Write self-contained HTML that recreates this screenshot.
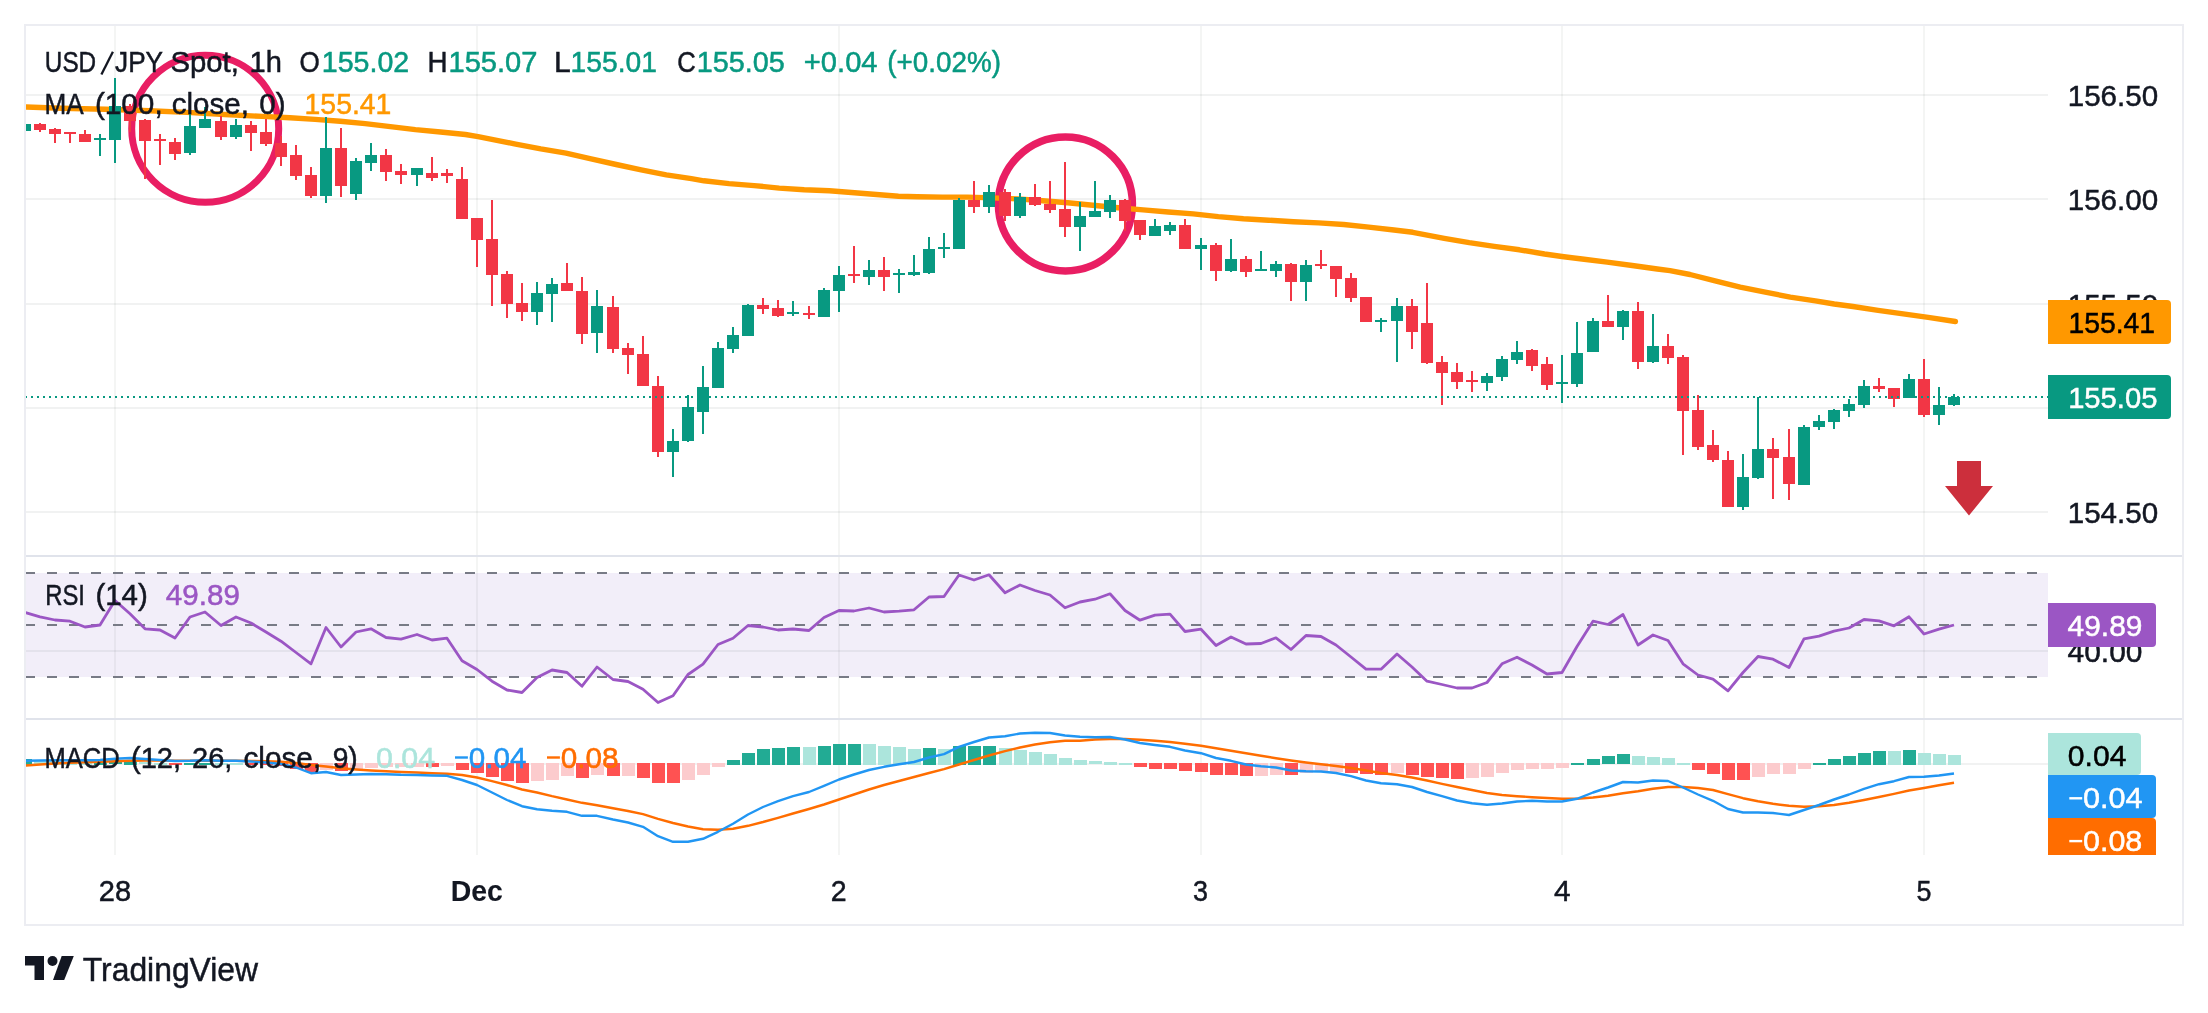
<!DOCTYPE html><html><head><meta charset="utf-8"><title>USD/JPY chart</title><style>html,body{margin:0;padding:0;background:#fff}body{width:2208px;height:1013px;overflow:hidden;font-family:"Liberation Sans",sans-serif}svg{display:block;will-change:transform}text{font-family:"Liberation Sans",sans-serif}</style></head><body>
<svg width="2208" height="1013" viewBox="0 0 2208 1013">
<rect width="2208" height="1013" fill="#fff"/>
<defs><clipPath id="pane"><rect x="26" y="26" width="2022" height="829"/></clipPath></defs>
<rect x="26" y="573" width="2022" height="104" fill="#f2eef9"/>
<g fill="#1e3228" fill-opacity="0.05" shape-rendering="crispEdges">
<rect x="114" y="26" width="2" height="829"/>
<rect x="476" y="26" width="2" height="829"/>
<rect x="838" y="26" width="2" height="829"/>
<rect x="1200" y="26" width="2" height="829"/>
<rect x="1561" y="26" width="2" height="829"/>
<rect x="1923" y="26" width="2" height="829"/>
</g>
<g fill="#1e3228" fill-opacity="0.062" shape-rendering="crispEdges">
<rect x="26" y="94" width="2022" height="2"/>
<rect x="26" y="198" width="2022" height="2"/>
<rect x="26" y="303" width="2022" height="2"/>
<rect x="26" y="407" width="2022" height="2"/>
<rect x="26" y="511" width="2022" height="2"/>
<rect x="26" y="650" width="2022" height="2"/>
<rect x="26" y="763" width="2022" height="2"/>
</g>
<g fill="#ecedf2" shape-rendering="crispEdges">
<rect x="24" y="24" width="2160" height="2"/><rect x="24" y="924" width="2160" height="2"/><rect x="24" y="24" width="2" height="902"/><rect x="2182" y="24" width="2" height="902"/>
</g>
<g fill="#e0e3eb" shape-rendering="crispEdges">
<rect x="26" y="555" width="2156" height="2"/><rect x="26" y="718" width="2156" height="2"/>
</g>
<g stroke="#787b86" stroke-width="2" stroke-dasharray="10 12" clip-path="url(#pane)">
<line x1="25" y1="573" x2="2048" y2="573"/>
<line x1="25" y1="625" x2="2048" y2="625"/>
<line x1="25" y1="677" x2="2048" y2="677"/>
</g>
<g clip-path="url(#pane)">
<circle cx="205.2" cy="128.8" r="73.5" fill="none" stroke="#e91e63" stroke-width="7"/>
<circle cx="1065.4" cy="203.9" r="67" fill="none" stroke="#e91e63" stroke-width="7.5"/>
<g shape-rendering="crispEdges">
<rect x="19" y="759.0" width="13" height="5.5" fill="#22ab94"/>
<rect x="34" y="760.0" width="13" height="4.5" fill="#ace5dc"/>
<rect x="49" y="760.8" width="13" height="3.8" fill="#ace5dc"/>
<rect x="64" y="761.5" width="13" height="3.0" fill="#ace5dc"/>
<rect x="79" y="762.0" width="13" height="2.5" fill="#ace5dc"/>
<rect x="94" y="761.8" width="13" height="2.8" fill="#22ab94"/>
<rect x="109" y="761.2" width="13" height="3.2" fill="#22ab94"/>
<rect x="124" y="761.0" width="13" height="3.5" fill="#22ab94"/>
<rect x="139" y="762.2" width="13" height="2.2" fill="#ace5dc"/>
<rect x="154" y="762.5" width="13" height="2.0" fill="#ace5dc"/>
<rect x="169" y="763.0" width="13" height="1.5" fill="#ff5252"/>
<rect x="184" y="762.5" width="13" height="2.0" fill="#22ab94"/>
<rect x="199" y="762.5" width="13" height="2.0" fill="#22ab94"/>
<rect x="215" y="762.5" width="13" height="2.0" fill="#ace5dc"/>
<rect x="230" y="762.5" width="13" height="2.0" fill="#ace5dc"/>
<rect x="245" y="763.0" width="13" height="1.5" fill="#ff5252"/>
<rect x="260" y="763.0" width="13" height="2.2" fill="#ff5252"/>
<rect x="275" y="763.0" width="13" height="3.2" fill="#ff5252"/>
<rect x="290" y="763.0" width="13" height="5.8" fill="#ff5252"/>
<rect x="305" y="763.0" width="13" height="9.0" fill="#ff5252"/>
<rect x="320" y="763.0" width="13" height="6.5" fill="#fccbcd"/>
<rect x="335" y="763.0" width="13" height="7.8" fill="#ff5252"/>
<rect x="350" y="763.0" width="13" height="6.0" fill="#fccbcd"/>
<rect x="365" y="763.0" width="13" height="4.5" fill="#fccbcd"/>
<rect x="380" y="763.0" width="13" height="4.0" fill="#fccbcd"/>
<rect x="395" y="763.0" width="13" height="3.8" fill="#fccbcd"/>
<rect x="411" y="763.0" width="13" height="3.5" fill="#fccbcd"/>
<rect x="426" y="763.0" width="13" height="4.0" fill="#ff5252"/>
<rect x="441" y="763.0" width="13" height="3.2" fill="#fccbcd"/>
<rect x="456" y="763.0" width="13" height="7.0" fill="#ff5252"/>
<rect x="471" y="763.0" width="13" height="9.5" fill="#ff5252"/>
<rect x="486" y="763.0" width="13" height="14.0" fill="#ff5252"/>
<rect x="501" y="763.0" width="13" height="17.5" fill="#ff5252"/>
<rect x="516" y="763.0" width="13" height="19.5" fill="#ff5252"/>
<rect x="531" y="763.0" width="13" height="18.2" fill="#fccbcd"/>
<rect x="546" y="763.0" width="13" height="16.5" fill="#fccbcd"/>
<rect x="561" y="763.0" width="13" height="13.2" fill="#fccbcd"/>
<rect x="576" y="763.0" width="13" height="14.5" fill="#ff5252"/>
<rect x="591" y="763.0" width="13" height="12.0" fill="#fccbcd"/>
<rect x="607" y="763.0" width="13" height="12.5" fill="#ff5252"/>
<rect x="622" y="763.0" width="13" height="12.5" fill="#fccbcd"/>
<rect x="637" y="763.0" width="13" height="14.5" fill="#ff5252"/>
<rect x="652" y="763.0" width="13" height="19.5" fill="#ff5252"/>
<rect x="667" y="763.0" width="13" height="19.5" fill="#ff5252"/>
<rect x="682" y="763.0" width="13" height="16.5" fill="#fccbcd"/>
<rect x="697" y="763.0" width="13" height="11.5" fill="#fccbcd"/>
<rect x="712" y="763.0" width="13" height="3.8" fill="#fccbcd"/>
<rect x="727" y="760.0" width="13" height="4.5" fill="#22ab94"/>
<rect x="742" y="753.0" width="13" height="11.5" fill="#22ab94"/>
<rect x="757" y="749.0" width="13" height="15.5" fill="#22ab94"/>
<rect x="772" y="748.0" width="13" height="16.5" fill="#22ab94"/>
<rect x="787" y="747.0" width="13" height="17.5" fill="#22ab94"/>
<rect x="803" y="747.0" width="13" height="17.5" fill="#ace5dc"/>
<rect x="818" y="746.0" width="13" height="18.5" fill="#22ab94"/>
<rect x="833" y="744.0" width="13" height="20.5" fill="#22ab94"/>
<rect x="848" y="744.0" width="13" height="20.5" fill="#22ab94"/>
<rect x="863" y="744.0" width="13" height="20.5" fill="#ace5dc"/>
<rect x="878" y="746.0" width="13" height="18.5" fill="#ace5dc"/>
<rect x="893" y="747.0" width="13" height="17.5" fill="#ace5dc"/>
<rect x="908" y="749.0" width="13" height="15.5" fill="#ace5dc"/>
<rect x="923" y="748.0" width="13" height="16.5" fill="#22ab94"/>
<rect x="938" y="749.0" width="13" height="15.5" fill="#ace5dc"/>
<rect x="953" y="746.0" width="13" height="18.5" fill="#22ab94"/>
<rect x="968" y="746.0" width="13" height="18.5" fill="#22ab94"/>
<rect x="983" y="746.0" width="13" height="18.5" fill="#22ab94"/>
<rect x="999" y="748.0" width="13" height="16.5" fill="#ace5dc"/>
<rect x="1014" y="750.0" width="13" height="14.5" fill="#ace5dc"/>
<rect x="1029" y="752.0" width="13" height="12.5" fill="#ace5dc"/>
<rect x="1044" y="754.0" width="13" height="10.5" fill="#ace5dc"/>
<rect x="1059" y="758.0" width="13" height="6.5" fill="#ace5dc"/>
<rect x="1074" y="760.0" width="13" height="4.5" fill="#ace5dc"/>
<rect x="1089" y="761.2" width="13" height="3.2" fill="#ace5dc"/>
<rect x="1104" y="762.0" width="13" height="2.5" fill="#ace5dc"/>
<rect x="1119" y="762.5" width="13" height="2.0" fill="#ace5dc"/>
<rect x="1134" y="763.0" width="13" height="3.8" fill="#ff5252"/>
<rect x="1149" y="763.0" width="13" height="5.8" fill="#ff5252"/>
<rect x="1164" y="763.0" width="13" height="5.8" fill="#ff5252"/>
<rect x="1179" y="763.0" width="13" height="7.8" fill="#ff5252"/>
<rect x="1195" y="763.0" width="13" height="8.8" fill="#ff5252"/>
<rect x="1210" y="763.0" width="13" height="11.5" fill="#ff5252"/>
<rect x="1225" y="763.0" width="13" height="11.5" fill="#ff5252"/>
<rect x="1240" y="763.0" width="13" height="12.5" fill="#ff5252"/>
<rect x="1255" y="763.0" width="13" height="12.5" fill="#fccbcd"/>
<rect x="1270" y="763.0" width="13" height="11.5" fill="#fccbcd"/>
<rect x="1285" y="763.0" width="13" height="11.5" fill="#ff5252"/>
<rect x="1300" y="763.0" width="13" height="9.5" fill="#fccbcd"/>
<rect x="1315" y="763.0" width="13" height="7.5" fill="#fccbcd"/>
<rect x="1330" y="763.0" width="13" height="9.0" fill="#fccbcd"/>
<rect x="1345" y="763.0" width="13" height="9.5" fill="#ff5252"/>
<rect x="1360" y="763.0" width="13" height="11.0" fill="#ff5252"/>
<rect x="1375" y="763.0" width="13" height="11.5" fill="#ff5252"/>
<rect x="1391" y="763.0" width="13" height="10.2" fill="#fccbcd"/>
<rect x="1406" y="763.0" width="13" height="12.0" fill="#ff5252"/>
<rect x="1421" y="763.0" width="13" height="13.5" fill="#ff5252"/>
<rect x="1436" y="763.0" width="13" height="14.5" fill="#ff5252"/>
<rect x="1451" y="763.0" width="13" height="15.8" fill="#ff5252"/>
<rect x="1466" y="763.0" width="13" height="14.5" fill="#fccbcd"/>
<rect x="1481" y="763.0" width="13" height="13.5" fill="#fccbcd"/>
<rect x="1496" y="763.0" width="13" height="9.5" fill="#fccbcd"/>
<rect x="1511" y="763.0" width="13" height="6.5" fill="#fccbcd"/>
<rect x="1526" y="763.0" width="13" height="5.5" fill="#fccbcd"/>
<rect x="1541" y="763.0" width="13" height="5.5" fill="#fccbcd"/>
<rect x="1556" y="763.0" width="13" height="4.5" fill="#fccbcd"/>
<rect x="1571" y="762.5" width="13" height="2.0" fill="#22ab94"/>
<rect x="1587" y="759.0" width="13" height="5.5" fill="#22ab94"/>
<rect x="1602" y="756.2" width="13" height="8.2" fill="#22ab94"/>
<rect x="1617" y="754.2" width="13" height="10.2" fill="#22ab94"/>
<rect x="1632" y="755.5" width="13" height="9.0" fill="#ace5dc"/>
<rect x="1647" y="757.0" width="13" height="7.5" fill="#ace5dc"/>
<rect x="1662" y="758.0" width="13" height="6.5" fill="#ace5dc"/>
<rect x="1677" y="762.5" width="13" height="2.0" fill="#ace5dc"/>
<rect x="1692" y="763.0" width="13" height="7.0" fill="#ff5252"/>
<rect x="1707" y="763.0" width="13" height="10.8" fill="#ff5252"/>
<rect x="1722" y="763.0" width="13" height="17.0" fill="#ff5252"/>
<rect x="1737" y="763.0" width="13" height="17.0" fill="#ff5252"/>
<rect x="1752" y="763.0" width="13" height="13.8" fill="#fccbcd"/>
<rect x="1767" y="763.0" width="13" height="10.8" fill="#fccbcd"/>
<rect x="1783" y="763.0" width="13" height="10.8" fill="#fccbcd"/>
<rect x="1798" y="763.0" width="13" height="5.8" fill="#fccbcd"/>
<rect x="1813" y="762.5" width="13" height="2.0" fill="#22ab94"/>
<rect x="1828" y="759.0" width="13" height="5.5" fill="#22ab94"/>
<rect x="1843" y="756.0" width="13" height="8.5" fill="#22ab94"/>
<rect x="1858" y="753.0" width="13" height="11.5" fill="#22ab94"/>
<rect x="1873" y="751.0" width="13" height="13.5" fill="#22ab94"/>
<rect x="1888" y="751.0" width="13" height="13.5" fill="#ace5dc"/>
<rect x="1903" y="750.0" width="13" height="14.5" fill="#22ab94"/>
<rect x="1918" y="753.0" width="13" height="11.5" fill="#ace5dc"/>
<rect x="1933" y="754.0" width="13" height="10.5" fill="#ace5dc"/>
<rect x="1948" y="755.0" width="13" height="9.5" fill="#ace5dc"/>
</g>
<polyline fill="none" stroke="#ff9800" stroke-width="5.4" stroke-linejoin="round" stroke-linecap="round" points="24.0,106.9 61.6,108.2 105.5,109.2 149.4,110.7 187.0,112.4 224.6,114.5 262.2,116.4 290.0,117.8 315.1,119.4 340.2,121.3 365.2,123.6 390.3,126.6 415.4,129.6 440.5,132.0 465.5,134.5 478.1,136.6 490.6,139.1 515.7,144.1 540.8,148.9 566.0,153.1 591.1,158.9 616.2,164.5 641.2,169.9 666.3,174.9 691.4,178.7 703.9,180.8 729.0,183.6 754.1,185.6 779.2,188.1 804.2,189.8 829.3,190.8 842.0,191.7 867.1,193.7 898.4,196.2 917.2,196.7 942.3,197.1 967.4,197.1 992.5,197.9 1017.6,198.9 1042.6,200.8 1067.7,202.7 1092.8,205.2 1118.0,207.7 1143.1,209.9 1168.2,212.0 1193.2,213.9 1218.3,216.6 1243.4,218.7 1268.5,220.2 1293.5,221.7 1318.6,222.9 1343.7,224.5 1368.8,227.1 1394.0,230.0 1412.8,232.3 1444.2,238.3 1469.2,242.7 1494.3,246.4 1519.4,249.8 1544.5,254.0 1562.0,256.5 1582.1,259.0 1607.2,262.1 1632.2,265.5 1657.3,269.0 1670.0,270.6 1690.0,274.5 1715.1,280.8 1740.2,287.1 1765.2,292.1 1790.3,297.1 1815.4,300.8 1834.2,304.0 1853.0,306.5 1878.1,310.3 1903.2,313.8 1928.2,317.4 1955.4,321.5"/>
<g shape-rendering="crispEdges">
<rect x="24" y="123.0" width="2" height="8.0" fill="#089981"/>
<rect x="19" y="124.0" width="12" height="7.0" fill="#089981"/>
<rect x="39" y="123.0" width="2" height="9.0" fill="#f23645"/>
<rect x="34" y="124.0" width="12" height="6.0" fill="#f23645"/>
<rect x="54" y="128.0" width="2" height="15.0" fill="#f23645"/>
<rect x="49" y="129.0" width="12" height="5.0" fill="#f23645"/>
<rect x="69" y="132.0" width="2" height="11.0" fill="#f23645"/>
<rect x="64" y="132.0" width="12" height="2.0" fill="#f23645"/>
<rect x="84" y="130.0" width="2" height="12.0" fill="#f23645"/>
<rect x="79" y="134.0" width="12" height="8.0" fill="#f23645"/>
<rect x="99" y="134.0" width="2" height="22.0" fill="#089981"/>
<rect x="94" y="138.0" width="12" height="2.0" fill="#089981"/>
<rect x="114" y="78.0" width="2" height="85.0" fill="#089981"/>
<rect x="109" y="106.0" width="12" height="34.0" fill="#089981"/>
<rect x="129" y="104.0" width="2" height="28.0" fill="#f23645"/>
<rect x="124" y="106.0" width="12" height="15.0" fill="#f23645"/>
<rect x="144" y="119.0" width="2" height="60.0" fill="#f23645"/>
<rect x="139" y="120.0" width="12" height="21.0" fill="#f23645"/>
<rect x="159" y="134.0" width="2" height="31.0" fill="#f23645"/>
<rect x="154" y="139.0" width="12" height="2.0" fill="#f23645"/>
<rect x="174" y="138.0" width="2" height="22.0" fill="#f23645"/>
<rect x="169" y="142.0" width="12" height="12.0" fill="#f23645"/>
<rect x="189" y="114.0" width="2" height="41.0" fill="#089981"/>
<rect x="184" y="126.0" width="12" height="27.0" fill="#089981"/>
<rect x="204" y="107.0" width="2" height="21.0" fill="#089981"/>
<rect x="199" y="119.0" width="12" height="9.0" fill="#089981"/>
<rect x="220" y="116.0" width="2" height="24.0" fill="#f23645"/>
<rect x="215" y="121.0" width="12" height="16.0" fill="#f23645"/>
<rect x="235" y="119.0" width="2" height="20.0" fill="#089981"/>
<rect x="230" y="125.0" width="12" height="12.0" fill="#089981"/>
<rect x="250" y="121.0" width="2" height="30.0" fill="#f23645"/>
<rect x="245" y="125.0" width="12" height="8.0" fill="#f23645"/>
<rect x="265" y="119.0" width="2" height="27.0" fill="#f23645"/>
<rect x="260" y="132.0" width="12" height="12.0" fill="#f23645"/>
<rect x="280" y="136.0" width="2" height="30.0" fill="#f23645"/>
<rect x="275" y="143.0" width="12" height="14.0" fill="#f23645"/>
<rect x="295" y="145.0" width="2" height="35.0" fill="#f23645"/>
<rect x="290" y="155.0" width="12" height="20.5" fill="#f23645"/>
<rect x="310" y="167.0" width="2" height="31.0" fill="#f23645"/>
<rect x="305" y="175.0" width="12" height="21.0" fill="#f23645"/>
<rect x="325" y="117.0" width="2" height="86.0" fill="#089981"/>
<rect x="320" y="148.0" width="12" height="48.0" fill="#089981"/>
<rect x="340" y="128.0" width="2" height="69.0" fill="#f23645"/>
<rect x="335" y="148.0" width="12" height="38.0" fill="#f23645"/>
<rect x="355" y="157.5" width="2" height="42.5" fill="#089981"/>
<rect x="350" y="161.0" width="12" height="33.0" fill="#089981"/>
<rect x="370" y="143.0" width="2" height="28.0" fill="#089981"/>
<rect x="365" y="155.0" width="12" height="8.0" fill="#089981"/>
<rect x="385" y="149.0" width="2" height="32.0" fill="#f23645"/>
<rect x="380" y="155.0" width="12" height="17.0" fill="#f23645"/>
<rect x="400" y="164.0" width="2" height="20.0" fill="#f23645"/>
<rect x="395" y="171.0" width="12" height="3.5" fill="#f23645"/>
<rect x="416" y="168.0" width="2" height="18.0" fill="#089981"/>
<rect x="411" y="168.0" width="12" height="6.5" fill="#089981"/>
<rect x="431" y="157.0" width="2" height="24.0" fill="#f23645"/>
<rect x="426" y="173.0" width="12" height="4.5" fill="#f23645"/>
<rect x="446" y="169.0" width="2" height="14.0" fill="#f23645"/>
<rect x="441" y="172.5" width="12" height="3.5" fill="#f23645"/>
<rect x="461" y="167.0" width="2" height="52.0" fill="#f23645"/>
<rect x="456" y="179.0" width="12" height="40.0" fill="#f23645"/>
<rect x="476" y="218.0" width="2" height="49.0" fill="#f23645"/>
<rect x="471" y="218.0" width="12" height="21.5" fill="#f23645"/>
<rect x="491" y="200.0" width="2" height="106.0" fill="#f23645"/>
<rect x="486" y="239.0" width="12" height="36.0" fill="#f23645"/>
<rect x="506" y="271.0" width="2" height="46.5" fill="#f23645"/>
<rect x="501" y="274.0" width="12" height="30.0" fill="#f23645"/>
<rect x="521" y="283.0" width="2" height="37.5" fill="#f23645"/>
<rect x="516" y="303.0" width="12" height="9.0" fill="#f23645"/>
<rect x="536" y="282.0" width="2" height="42.5" fill="#089981"/>
<rect x="531" y="293.0" width="12" height="19.0" fill="#089981"/>
<rect x="551" y="278.0" width="2" height="44.0" fill="#089981"/>
<rect x="546" y="284.0" width="12" height="10.0" fill="#089981"/>
<rect x="566" y="263.0" width="2" height="28.0" fill="#f23645"/>
<rect x="561" y="283.0" width="12" height="8.0" fill="#f23645"/>
<rect x="581" y="277.0" width="2" height="67.0" fill="#f23645"/>
<rect x="576" y="291.0" width="12" height="43.0" fill="#f23645"/>
<rect x="596" y="290.0" width="2" height="62.5" fill="#089981"/>
<rect x="591" y="306.0" width="12" height="26.5" fill="#089981"/>
<rect x="612" y="296.0" width="2" height="56.5" fill="#f23645"/>
<rect x="607" y="307.0" width="12" height="42.0" fill="#f23645"/>
<rect x="627" y="343.0" width="2" height="31.0" fill="#f23645"/>
<rect x="622" y="348.0" width="12" height="6.5" fill="#f23645"/>
<rect x="642" y="336.0" width="2" height="50.0" fill="#f23645"/>
<rect x="637" y="354.0" width="12" height="32.0" fill="#f23645"/>
<rect x="657" y="376.0" width="2" height="81.0" fill="#f23645"/>
<rect x="652" y="386.0" width="12" height="66.0" fill="#f23645"/>
<rect x="672" y="429.0" width="2" height="48.0" fill="#089981"/>
<rect x="667" y="441.0" width="12" height="11.0" fill="#089981"/>
<rect x="687" y="395.0" width="2" height="47.0" fill="#089981"/>
<rect x="682" y="407.0" width="12" height="34.0" fill="#089981"/>
<rect x="702" y="366.0" width="2" height="68.0" fill="#089981"/>
<rect x="697" y="387.0" width="12" height="25.0" fill="#089981"/>
<rect x="717" y="342.0" width="2" height="46.0" fill="#089981"/>
<rect x="712" y="348.0" width="12" height="40.0" fill="#089981"/>
<rect x="732" y="327.0" width="2" height="26.0" fill="#089981"/>
<rect x="727" y="335.0" width="12" height="14.0" fill="#089981"/>
<rect x="747" y="304.0" width="2" height="32.0" fill="#089981"/>
<rect x="742" y="305.0" width="12" height="31.0" fill="#089981"/>
<rect x="762" y="298.0" width="2" height="16.0" fill="#f23645"/>
<rect x="757" y="305.0" width="12" height="4.0" fill="#f23645"/>
<rect x="777" y="300.0" width="2" height="17.0" fill="#f23645"/>
<rect x="772" y="308.0" width="12" height="8.0" fill="#f23645"/>
<rect x="792" y="301.0" width="2" height="15.0" fill="#089981"/>
<rect x="787" y="312.0" width="12" height="2.0" fill="#089981"/>
<rect x="808" y="306.0" width="2" height="13.0" fill="#f23645"/>
<rect x="803" y="313.0" width="12" height="2.0" fill="#f23645"/>
<rect x="823" y="288.0" width="2" height="29.0" fill="#089981"/>
<rect x="818" y="290.0" width="12" height="27.0" fill="#089981"/>
<rect x="838" y="266.0" width="2" height="46.0" fill="#089981"/>
<rect x="833" y="275.0" width="12" height="16.0" fill="#089981"/>
<rect x="853" y="246.0" width="2" height="37.0" fill="#f23645"/>
<rect x="848" y="274.0" width="12" height="2.0" fill="#f23645"/>
<rect x="868" y="260.0" width="2" height="25.0" fill="#089981"/>
<rect x="863" y="270.0" width="12" height="7.0" fill="#089981"/>
<rect x="883" y="257.0" width="2" height="34.0" fill="#f23645"/>
<rect x="878" y="270.0" width="12" height="7.0" fill="#f23645"/>
<rect x="898" y="269.0" width="2" height="24.0" fill="#089981"/>
<rect x="893" y="273.0" width="12" height="2.0" fill="#089981"/>
<rect x="913" y="255.0" width="2" height="21.0" fill="#089981"/>
<rect x="908" y="272.0" width="12" height="3.0" fill="#089981"/>
<rect x="928" y="237.0" width="2" height="37.0" fill="#089981"/>
<rect x="923" y="249.0" width="12" height="24.0" fill="#089981"/>
<rect x="943" y="233.0" width="2" height="25.0" fill="#089981"/>
<rect x="938" y="247.0" width="12" height="2.0" fill="#089981"/>
<rect x="958" y="198.0" width="2" height="51.0" fill="#089981"/>
<rect x="953" y="200.0" width="12" height="49.0" fill="#089981"/>
<rect x="973" y="181.0" width="2" height="32.0" fill="#f23645"/>
<rect x="968" y="200.0" width="12" height="7.0" fill="#f23645"/>
<rect x="988" y="185.0" width="2" height="28.0" fill="#089981"/>
<rect x="983" y="192.0" width="12" height="15.0" fill="#089981"/>
<rect x="1004" y="189.0" width="2" height="32.0" fill="#f23645"/>
<rect x="999" y="192.0" width="12" height="24.0" fill="#f23645"/>
<rect x="1019" y="193.0" width="2" height="25.0" fill="#089981"/>
<rect x="1014" y="197.0" width="12" height="19.0" fill="#089981"/>
<rect x="1034" y="184.0" width="2" height="22.0" fill="#f23645"/>
<rect x="1029" y="197.0" width="12" height="7.5" fill="#f23645"/>
<rect x="1049" y="181.0" width="2" height="32.0" fill="#f23645"/>
<rect x="1044" y="204.0" width="12" height="6.0" fill="#f23645"/>
<rect x="1064" y="162.0" width="2" height="75.0" fill="#f23645"/>
<rect x="1059" y="209.0" width="12" height="18.0" fill="#f23645"/>
<rect x="1079" y="202.0" width="2" height="49.0" fill="#089981"/>
<rect x="1074" y="216.0" width="12" height="11.0" fill="#089981"/>
<rect x="1094" y="181.0" width="2" height="36.0" fill="#089981"/>
<rect x="1089" y="211.0" width="12" height="6.0" fill="#089981"/>
<rect x="1109" y="195.0" width="2" height="23.0" fill="#089981"/>
<rect x="1104" y="200.0" width="12" height="12.0" fill="#089981"/>
<rect x="1124" y="199.0" width="2" height="32.0" fill="#f23645"/>
<rect x="1119" y="200.0" width="12" height="21.0" fill="#f23645"/>
<rect x="1139" y="220.0" width="2" height="20.0" fill="#f23645"/>
<rect x="1134" y="220.0" width="12" height="15.0" fill="#f23645"/>
<rect x="1154" y="219.0" width="2" height="17.0" fill="#089981"/>
<rect x="1149" y="226.0" width="12" height="10.0" fill="#089981"/>
<rect x="1169" y="222.0" width="2" height="13.0" fill="#089981"/>
<rect x="1164" y="225.0" width="12" height="6.0" fill="#089981"/>
<rect x="1184" y="219.0" width="2" height="30.0" fill="#f23645"/>
<rect x="1179" y="225.0" width="12" height="24.0" fill="#f23645"/>
<rect x="1200" y="238.0" width="2" height="32.0" fill="#089981"/>
<rect x="1195" y="245.0" width="12" height="4.0" fill="#089981"/>
<rect x="1215" y="243.0" width="2" height="38.0" fill="#f23645"/>
<rect x="1210" y="245.0" width="12" height="26.0" fill="#f23645"/>
<rect x="1230" y="239.0" width="2" height="33.0" fill="#089981"/>
<rect x="1225" y="259.0" width="12" height="12.0" fill="#089981"/>
<rect x="1245" y="256.0" width="2" height="21.0" fill="#f23645"/>
<rect x="1240" y="259.0" width="12" height="13.0" fill="#f23645"/>
<rect x="1260" y="251.0" width="2" height="20.0" fill="#089981"/>
<rect x="1255" y="269.0" width="12" height="2.0" fill="#089981"/>
<rect x="1275" y="261.0" width="2" height="16.0" fill="#089981"/>
<rect x="1270" y="264.0" width="12" height="7.0" fill="#089981"/>
<rect x="1290" y="263.0" width="2" height="38.0" fill="#f23645"/>
<rect x="1285" y="264.0" width="12" height="18.0" fill="#f23645"/>
<rect x="1305" y="260.0" width="2" height="41.0" fill="#089981"/>
<rect x="1300" y="265.0" width="12" height="17.0" fill="#089981"/>
<rect x="1320" y="250.0" width="2" height="19.0" fill="#f23645"/>
<rect x="1315" y="264.0" width="12" height="2.0" fill="#f23645"/>
<rect x="1335" y="266.0" width="2" height="31.0" fill="#f23645"/>
<rect x="1330" y="266.0" width="12" height="13.0" fill="#f23645"/>
<rect x="1350" y="273.0" width="2" height="29.0" fill="#f23645"/>
<rect x="1345" y="278.0" width="12" height="20.0" fill="#f23645"/>
<rect x="1365" y="297.0" width="2" height="25.0" fill="#f23645"/>
<rect x="1360" y="297.0" width="12" height="25.0" fill="#f23645"/>
<rect x="1380" y="318.0" width="2" height="14.0" fill="#089981"/>
<rect x="1375" y="320.0" width="12" height="2.0" fill="#089981"/>
<rect x="1396" y="298.0" width="2" height="64.0" fill="#089981"/>
<rect x="1391" y="306.0" width="12" height="15.0" fill="#089981"/>
<rect x="1411" y="299.0" width="2" height="50.0" fill="#f23645"/>
<rect x="1406" y="306.0" width="12" height="26.0" fill="#f23645"/>
<rect x="1426" y="283.0" width="2" height="81.0" fill="#f23645"/>
<rect x="1421" y="323.0" width="12" height="40.0" fill="#f23645"/>
<rect x="1441" y="356.0" width="2" height="49.0" fill="#f23645"/>
<rect x="1436" y="362.0" width="12" height="11.0" fill="#f23645"/>
<rect x="1456" y="363.0" width="2" height="26.0" fill="#f23645"/>
<rect x="1451" y="372.0" width="12" height="10.0" fill="#f23645"/>
<rect x="1471" y="371.0" width="2" height="21.0" fill="#f23645"/>
<rect x="1466" y="380.0" width="12" height="2.0" fill="#f23645"/>
<rect x="1486" y="373.0" width="2" height="18.0" fill="#089981"/>
<rect x="1481" y="376.0" width="12" height="7.0" fill="#089981"/>
<rect x="1501" y="356.0" width="2" height="25.0" fill="#089981"/>
<rect x="1496" y="359.0" width="12" height="18.0" fill="#089981"/>
<rect x="1516" y="341.0" width="2" height="23.0" fill="#089981"/>
<rect x="1511" y="352.0" width="12" height="8.0" fill="#089981"/>
<rect x="1531" y="349.0" width="2" height="22.0" fill="#f23645"/>
<rect x="1526" y="350.0" width="12" height="16.0" fill="#f23645"/>
<rect x="1546" y="357.0" width="2" height="33.0" fill="#f23645"/>
<rect x="1541" y="364.0" width="12" height="21.0" fill="#f23645"/>
<rect x="1561" y="355.0" width="2" height="48.0" fill="#089981"/>
<rect x="1556" y="382.0" width="12" height="2.0" fill="#089981"/>
<rect x="1576" y="322.0" width="2" height="65.0" fill="#089981"/>
<rect x="1571" y="353.0" width="12" height="31.0" fill="#089981"/>
<rect x="1592" y="318.0" width="2" height="34.0" fill="#089981"/>
<rect x="1587" y="321.0" width="12" height="31.0" fill="#089981"/>
<rect x="1607" y="295.0" width="2" height="32.0" fill="#f23645"/>
<rect x="1602" y="321.0" width="12" height="6.0" fill="#f23645"/>
<rect x="1622" y="310.0" width="2" height="30.0" fill="#089981"/>
<rect x="1617" y="311.0" width="12" height="16.0" fill="#089981"/>
<rect x="1637" y="302.0" width="2" height="67.0" fill="#f23645"/>
<rect x="1632" y="311.0" width="12" height="51.0" fill="#f23645"/>
<rect x="1652" y="314.0" width="2" height="49.0" fill="#089981"/>
<rect x="1647" y="346.0" width="12" height="16.0" fill="#089981"/>
<rect x="1667" y="334.0" width="2" height="30.0" fill="#f23645"/>
<rect x="1662" y="346.0" width="12" height="12.0" fill="#f23645"/>
<rect x="1682" y="355.0" width="2" height="100.0" fill="#f23645"/>
<rect x="1677" y="357.0" width="12" height="54.0" fill="#f23645"/>
<rect x="1697" y="395.0" width="2" height="55.0" fill="#f23645"/>
<rect x="1692" y="410.0" width="12" height="37.0" fill="#f23645"/>
<rect x="1712" y="430.0" width="2" height="32.0" fill="#f23645"/>
<rect x="1707" y="445.0" width="12" height="15.0" fill="#f23645"/>
<rect x="1727" y="451.0" width="2" height="56.0" fill="#f23645"/>
<rect x="1722" y="460.0" width="12" height="47.0" fill="#f23645"/>
<rect x="1742" y="454.0" width="2" height="56.0" fill="#089981"/>
<rect x="1737" y="477.0" width="12" height="30.0" fill="#089981"/>
<rect x="1757" y="397.0" width="2" height="82.0" fill="#089981"/>
<rect x="1752" y="449.0" width="12" height="29.0" fill="#089981"/>
<rect x="1772" y="438.0" width="2" height="61.0" fill="#f23645"/>
<rect x="1767" y="449.0" width="12" height="9.0" fill="#f23645"/>
<rect x="1788" y="429.0" width="2" height="71.0" fill="#f23645"/>
<rect x="1783" y="457.0" width="12" height="27.0" fill="#f23645"/>
<rect x="1803" y="425.0" width="2" height="60.0" fill="#089981"/>
<rect x="1798" y="427.0" width="12" height="58.0" fill="#089981"/>
<rect x="1818" y="415.0" width="2" height="15.0" fill="#089981"/>
<rect x="1813" y="421.0" width="12" height="6.0" fill="#089981"/>
<rect x="1833" y="409.0" width="2" height="20.0" fill="#089981"/>
<rect x="1828" y="410.0" width="12" height="12.0" fill="#089981"/>
<rect x="1848" y="399.0" width="2" height="18.0" fill="#089981"/>
<rect x="1843" y="404.0" width="12" height="7.0" fill="#089981"/>
<rect x="1863" y="380.0" width="2" height="28.0" fill="#089981"/>
<rect x="1858" y="386.0" width="12" height="19.0" fill="#089981"/>
<rect x="1878" y="378.0" width="2" height="14.0" fill="#f23645"/>
<rect x="1873" y="386.0" width="12" height="3.0" fill="#f23645"/>
<rect x="1893" y="388.0" width="2" height="19.0" fill="#f23645"/>
<rect x="1888" y="388.0" width="12" height="11.0" fill="#f23645"/>
<rect x="1908" y="374.0" width="2" height="24.0" fill="#089981"/>
<rect x="1903" y="379.0" width="12" height="19.0" fill="#089981"/>
<rect x="1923" y="359.0" width="2" height="58.0" fill="#f23645"/>
<rect x="1918" y="379.0" width="12" height="36.0" fill="#f23645"/>
<rect x="1938" y="387.0" width="2" height="38.0" fill="#089981"/>
<rect x="1933" y="404.5" width="12" height="10.5" fill="#089981"/>
<rect x="1953" y="394.0" width="2" height="12.0" fill="#089981"/>
<rect x="1948" y="397.0" width="12" height="8.0" fill="#089981"/>
</g>
<line x1="25" y1="397" x2="2048" y2="397" stroke="#089981" stroke-width="2" stroke-dasharray="2 4" shape-rendering="crispEdges"/>
<polyline fill="none" stroke="#9b56c4" stroke-width="2.8" stroke-linejoin="round" points="25,612.5 40,616.8 55,620.0 70,621.2 85,627.0 100,625.0 115,600.5 130,613.8 145,628.8 160,630.0 175,638.0 190,617.0 205,612.0 221,625.5 236,617.0 251,623.0 266,632.0 281,641.2 296,652.5 311,663.8 326,627.5 341,647.0 356,632.0 371,628.8 386,637.5 401,639.2 417,634.5 432,640.0 447,638.2 462,660.8 477,669.5 492,681.2 507,690.0 522,692.5 537,677.5 552,670.0 567,672.5 582,686.2 597,667.0 613,679.5 628,681.5 643,689.2 658,702.5 673,695.8 688,674.5 703,664.2 718,644.5 733,638.2 748,625.5 763,627.0 778,630.0 793,629.0 809,630.5 824,617.5 839,610.5 854,611.0 869,608.0 884,612.0 899,611.2 914,609.8 929,597.0 944,596.5 959,575.0 974,580.0 989,574.8 1005,592.8 1020,585.0 1035,590.5 1050,595.0 1065,607.8 1080,602.0 1095,599.2 1110,593.8 1125,610.5 1140,620.2 1155,615.2 1170,614.2 1185,631.5 1201,629.2 1216,645.5 1231,637.0 1246,644.0 1261,643.5 1276,637.8 1291,649.5 1306,635.5 1321,636.5 1336,645.0 1351,657.0 1366,669.2 1381,669.2 1397,654.0 1412,667.0 1427,681.2 1442,684.5 1457,688.0 1472,688.0 1487,682.5 1502,663.8 1517,657.2 1532,665.0 1547,674.0 1562,672.5 1577,646.5 1593,621.2 1608,624.5 1623,614.5 1638,645.0 1653,635.0 1668,640.5 1683,663.8 1698,675.0 1713,679.2 1728,690.8 1743,672.5 1758,656.5 1773,659.2 1789,667.5 1804,638.8 1819,636.2 1834,631.2 1849,628.0 1864,619.5 1879,620.8 1894,625.8 1909,616.8 1924,634.0 1939,629.2 1954,625.0"/>
<polyline fill="none" stroke="#ff6d00" stroke-width="2.4" stroke-linejoin="round" points="25,765.5 40,764.5 55,763.5 70,762.8 85,762.2 100,761.8 115,761.2 130,760.8 145,760.5 160,760.5 175,760.8 190,760.8 205,760.8 221,760.8 236,760.8 251,761.0 266,761.2 281,761.8 296,763.0 311,765.0 326,766.5 341,768.2 356,769.5 371,770.5 386,771.2 401,772.0 417,772.5 432,773.2 447,773.8 462,775.0 477,777.5 492,781.2 507,785.0 522,789.5 537,792.5 552,796.2 567,799.5 582,802.8 597,805.2 613,808.2 628,811.0 643,814.2 658,818.8 673,823.0 688,826.5 703,829.2 718,829.8 733,828.8 748,825.8 763,822.0 778,817.8 793,813.5 809,809.0 824,804.5 839,799.5 854,794.5 869,789.5 884,785.0 899,781.0 914,777.0 929,773.0 944,769.2 959,764.5 974,760.0 989,755.5 1005,751.2 1020,747.5 1035,744.5 1050,742.2 1065,740.8 1080,740.8 1095,739.5 1110,739.0 1125,739.0 1140,739.8 1155,740.8 1170,742.0 1185,743.8 1201,745.8 1216,748.2 1231,750.8 1246,753.2 1261,755.8 1276,758.2 1291,760.5 1306,762.5 1321,764.2 1336,766.0 1351,768.0 1366,770.5 1381,773.0 1397,775.0 1412,777.5 1427,780.5 1442,783.8 1457,787.0 1472,790.0 1487,793.0 1502,795.0 1517,796.2 1532,797.2 1547,798.0 1562,798.8 1577,798.8 1593,797.5 1608,795.8 1623,793.2 1638,791.2 1653,788.8 1668,787.0 1683,787.0 1698,788.0 1713,790.0 1728,794.2 1743,798.2 1758,801.2 1773,803.8 1789,805.8 1804,806.8 1819,806.2 1834,805.0 1849,802.8 1864,800.0 1879,797.0 1894,793.8 1909,790.5 1924,788.0 1939,785.2 1954,782.8"/>
<polyline fill="none" stroke="#2196f3" stroke-width="2.4" stroke-linejoin="round" points="25,760.8 40,760.5 55,760.2 70,760.2 85,760.2 100,760.0 115,758.8 130,758.0 145,759.0 160,760.0 175,761.0 190,760.8 205,760.2 221,760.8 236,760.8 251,761.5 266,762.5 281,764.0 296,767.5 311,773.2 326,772.0 341,775.0 356,774.5 371,774.0 386,774.2 401,774.8 417,775.0 432,775.5 447,775.8 462,780.0 477,785.0 492,792.5 507,800.0 522,806.2 537,809.2 552,810.8 567,811.8 582,815.8 597,815.8 613,819.5 628,822.5 643,826.8 658,836.2 673,841.8 688,841.8 703,838.8 718,831.8 733,823.8 748,814.5 763,807.0 778,801.2 793,796.2 809,792.0 824,785.8 839,779.5 854,774.5 869,770.0 884,766.8 899,764.2 914,762.0 929,757.5 944,754.2 959,746.8 974,742.0 989,737.5 1005,736.2 1020,733.5 1035,732.8 1050,733.0 1065,735.5 1080,736.8 1095,737.2 1110,737.0 1125,739.5 1140,743.0 1155,745.0 1170,746.8 1185,750.5 1201,753.2 1216,758.0 1231,760.8 1246,764.5 1261,766.2 1276,767.5 1291,770.5 1306,771.2 1321,771.5 1336,773.0 1351,776.2 1366,780.5 1381,783.2 1397,784.2 1412,787.0 1427,792.0 1442,796.2 1457,800.5 1472,803.2 1487,804.8 1502,803.5 1517,801.5 1532,800.8 1547,801.5 1562,801.5 1577,798.8 1593,792.5 1608,787.5 1623,782.0 1638,782.5 1653,780.5 1668,781.0 1683,787.5 1698,794.5 1713,800.8 1728,809.0 1743,812.5 1758,812.5 1773,813.0 1789,815.0 1804,810.0 1819,805.0 1834,799.5 1849,794.5 1864,788.8 1879,784.2 1894,781.2 1909,777.0 1924,776.8 1939,775.5 1954,773.5"/>
<path d="M1957 461H1981V486H1993L1969 515.5L1945 486H1957Z" fill="#cc2f3c"/>
</g>
<text x="2067.75" y="106.00" font-size="29" fill="#131722" stroke="#131722" stroke-width="0.5" textLength="90.39" lengthAdjust="spacingAndGlyphs">156.50</text>
<text x="2067.75" y="210.00" font-size="29" fill="#131722" stroke="#131722" stroke-width="0.5" textLength="90.39" lengthAdjust="spacingAndGlyphs">156.00</text>
<text x="2067.75" y="314.70" font-size="29" fill="#131722" stroke="#131722" stroke-width="0.5" textLength="90.39" lengthAdjust="spacingAndGlyphs">155.50</text>
<text x="2067.75" y="523.00" font-size="29" fill="#131722" stroke="#131722" stroke-width="0.5" textLength="90.39" lengthAdjust="spacingAndGlyphs">154.50</text>
<text x="2067.59" y="661.60" font-size="29" fill="#131722" stroke="#131722" stroke-width="0.5" textLength="74.81" lengthAdjust="spacingAndGlyphs">40.00</text>
<path d="M2048 300H2167Q2171 300 2171 304V340Q2171 344 2167 344H2048Z" fill="#ff9800"/>
<text x="2068.50" y="333.00" font-size="29" fill="#000" stroke="#000" stroke-width="0.5" textLength="86.63" lengthAdjust="spacingAndGlyphs">155.41</text>
<path d="M2048 375H2167Q2171 375 2171 379V415Q2171 419 2167 419H2048Z" fill="#089981"/>
<text x="2068.13" y="408.00" font-size="29" fill="#fff" stroke="#fff" stroke-width="0.5" textLength="89.26" lengthAdjust="spacingAndGlyphs">155.05</text>
<path d="M2048 603H2152Q2156 603 2156 607V643Q2156 647 2152 647H2048Z" fill="#9b56c4"/>
<text x="2067.59" y="636.00" font-size="29" fill="#fff" stroke="#fff" stroke-width="0.5" textLength="74.81" lengthAdjust="spacingAndGlyphs">49.89</text>
<path d="M2048 733H2137Q2141 733 2141 737V771Q2141 775 2137 775H2048Z" fill="#ace5dc"/>
<text x="2067.85" y="765.90" font-size="29" fill="#000" stroke="#000" stroke-width="0.5" textLength="58.51" lengthAdjust="spacingAndGlyphs">0.04</text>
<path d="M2048 775H2152Q2156 775 2156 779V814Q2156 818 2152 818H2048Z" fill="#2196f3"/>
<rect x="2069.30" y="797.10" width="12.9" height="2.4" fill="#fff"/>
<text x="2083.03" y="808.30" font-size="29" fill="#fff" stroke="#fff" stroke-width="0.5" textLength="59.55" lengthAdjust="spacingAndGlyphs">0.04</text>
<path d="M2048 818H2152Q2156 818 2156 822V855H2048Z" fill="#ff6d00"/>
<rect x="2069.30" y="839.90" width="12.9" height="2.4" fill="#fff"/>
<text x="2083.03" y="851.10" font-size="29" fill="#fff" stroke="#fff" stroke-width="0.5" textLength="59.27" lengthAdjust="spacingAndGlyphs">0.08</text>
<text x="98.80" y="900.60" font-size="29" fill="#131722" stroke="#131722" stroke-width="0.5" textLength="32.23" lengthAdjust="spacingAndGlyphs">28</text>
<text x="450.67" y="900.60" font-size="29" fill="#131722" stroke="#131722" stroke-width="0.1" font-weight="bold" textLength="52.14" lengthAdjust="spacingAndGlyphs">Dec</text>
<text x="830.82" y="900.60" font-size="29" fill="#131722" stroke="#131722" stroke-width="0.5" textLength="15.86" lengthAdjust="spacingAndGlyphs">2</text>
<text x="1192.98" y="900.60" font-size="29" fill="#131722" stroke="#131722" stroke-width="0.5" textLength="14.96" lengthAdjust="spacingAndGlyphs">3</text>
<text x="1554.10" y="900.60" font-size="29" fill="#131722" stroke="#131722" stroke-width="0.5" textLength="16.55" lengthAdjust="spacingAndGlyphs">4</text>
<text x="1916.42" y="900.60" font-size="29" fill="#131722" stroke="#131722" stroke-width="0.5" textLength="14.96" lengthAdjust="spacingAndGlyphs">5</text>
<text x="44.85" y="72.40" font-size="29" fill="#131722" stroke="#131722" stroke-width="0.5" textLength="51.29" lengthAdjust="spacingAndGlyphs">USD</text>
<text x="115.08" y="72.40" font-size="29" fill="#131722" stroke="#131722" stroke-width="0.5" textLength="47.99" lengthAdjust="spacingAndGlyphs">JPY</text>
<text x="170.40" y="72.40" font-size="29" fill="#131722" stroke="#131722" stroke-width="0.5" textLength="68.46" lengthAdjust="spacingAndGlyphs">Spot,</text>
<text x="249.54" y="72.40" font-size="29" fill="#131722" stroke="#131722" stroke-width="0.5" textLength="32.33" lengthAdjust="spacingAndGlyphs">1h</text>
<text x="299.50" y="72.40" font-size="29" fill="#131722" stroke="#131722" stroke-width="0.5" textLength="20.24" lengthAdjust="spacingAndGlyphs">O</text>
<text x="321.83" y="72.40" font-size="29" fill="#089981" stroke="#089981" stroke-width="0.5" textLength="87.37" lengthAdjust="spacingAndGlyphs">155.02</text>
<text x="427.47" y="72.40" font-size="29" fill="#131722" stroke="#131722" stroke-width="0.5" textLength="20.06" lengthAdjust="spacingAndGlyphs">H</text>
<text x="448.54" y="72.40" font-size="29" fill="#089981" stroke="#089981" stroke-width="0.5" textLength="88.93" lengthAdjust="spacingAndGlyphs">155.07</text>
<text x="554.03" y="72.40" font-size="29" fill="#131722" stroke="#131722" stroke-width="0.5" textLength="16.75" lengthAdjust="spacingAndGlyphs">L</text>
<text x="570.61" y="72.40" font-size="29" fill="#089981" stroke="#089981" stroke-width="0.5" textLength="86.26" lengthAdjust="spacingAndGlyphs">155.01</text>
<text x="677.22" y="72.40" font-size="29" fill="#131722" stroke="#131722" stroke-width="0.5" textLength="18.51" lengthAdjust="spacingAndGlyphs">C</text>
<text x="696.82" y="72.40" font-size="29" fill="#089981" stroke="#089981" stroke-width="0.5" textLength="87.91" lengthAdjust="spacingAndGlyphs">155.05</text>
<text x="803.85" y="72.40" font-size="29" fill="#089981" stroke="#089981" stroke-width="0.5" textLength="73.68" lengthAdjust="spacingAndGlyphs">+0.04</text>
<text x="887.28" y="72.40" font-size="29" fill="#089981" stroke="#089981" stroke-width="0.5" textLength="113.64" lengthAdjust="spacingAndGlyphs">(+0.02%)</text>
<line x1="112.9" y1="51.8" x2="101.4" y2="74.6" stroke="#131722" stroke-width="2.3"/>
<text x="44.61" y="114.35" font-size="29" fill="#131722" stroke="#131722" stroke-width="0.5" textLength="39.19" lengthAdjust="spacingAndGlyphs">MA</text>
<text x="94.91" y="114.35" font-size="29" fill="#131722" stroke="#131722" stroke-width="0.5" textLength="67.75" lengthAdjust="spacingAndGlyphs">(100,</text>
<text x="171.76" y="114.35" font-size="29" fill="#131722" stroke="#131722" stroke-width="0.5" textLength="77.16" lengthAdjust="spacingAndGlyphs">close,</text>
<text x="259.32" y="114.35" font-size="29" fill="#131722" stroke="#131722" stroke-width="0.5" textLength="26.30" lengthAdjust="spacingAndGlyphs">0)</text>
<text x="304.59" y="114.35" font-size="29" fill="#ff9800" stroke="#ff9800" stroke-width="0.5" textLength="86.79" lengthAdjust="spacingAndGlyphs">155.41</text>
<text x="45.20" y="604.80" font-size="29" fill="#131722" stroke="#131722" stroke-width="0.5" textLength="39.72" lengthAdjust="spacingAndGlyphs">RSI</text>
<text x="95.42" y="604.80" font-size="29" fill="#131722" stroke="#131722" stroke-width="0.5" textLength="52.41" lengthAdjust="spacingAndGlyphs">(14)</text>
<text x="165.85" y="604.80" font-size="29" fill="#9b56c4" stroke="#9b56c4" stroke-width="0.5" textLength="74.09" lengthAdjust="spacingAndGlyphs">49.89</text>
<text x="44.40" y="767.50" font-size="29" fill="#131722" stroke="#131722" stroke-width="0.5" textLength="75.33" lengthAdjust="spacingAndGlyphs">MACD</text>
<text x="130.95" y="767.50" font-size="29" fill="#131722" stroke="#131722" stroke-width="0.5" textLength="50.15" lengthAdjust="spacingAndGlyphs">(12,</text>
<text x="192.05" y="767.50" font-size="29" fill="#131722" stroke="#131722" stroke-width="0.5" textLength="40.31" lengthAdjust="spacingAndGlyphs">26,</text>
<text x="243.50" y="767.50" font-size="29" fill="#131722" stroke="#131722" stroke-width="0.5" textLength="77.68" lengthAdjust="spacingAndGlyphs">close,</text>
<text x="332.70" y="767.50" font-size="29" fill="#131722" stroke="#131722" stroke-width="0.5" textLength="25.08" lengthAdjust="spacingAndGlyphs">9)</text>
<text x="376.03" y="767.50" font-size="29" fill="#ace5dc" stroke="#ace5dc" stroke-width="0.5" textLength="59.14" lengthAdjust="spacingAndGlyphs">0.04</text>
<rect x="455.00" y="756.30" width="12.9" height="2.4" fill="#2196f3"/>
<text x="468.77" y="767.50" font-size="29" fill="#2196f3" stroke="#2196f3" stroke-width="0.5" textLength="57.63" lengthAdjust="spacingAndGlyphs">0.04</text>
<rect x="547.00" y="756.30" width="12.9" height="2.4" fill="#ff6d00"/>
<text x="560.76" y="767.50" font-size="29" fill="#ff6d00" stroke="#ff6d00" stroke-width="0.5" textLength="57.80" lengthAdjust="spacingAndGlyphs">0.08</text>
<g fill="#131722"><path d="M25 956H44V980H34.5V965.5H25Z"/><circle cx="52.5" cy="961" r="5"/><path d="M61.7 956H73.8L64.2 980H53Z"/></g>
<text x="82.85" y="980.80" font-size="33.9" fill="#131722" stroke="#131722" stroke-width="0.5" textLength="175.17" lengthAdjust="spacingAndGlyphs">TradingView</text>
</svg></body></html>
